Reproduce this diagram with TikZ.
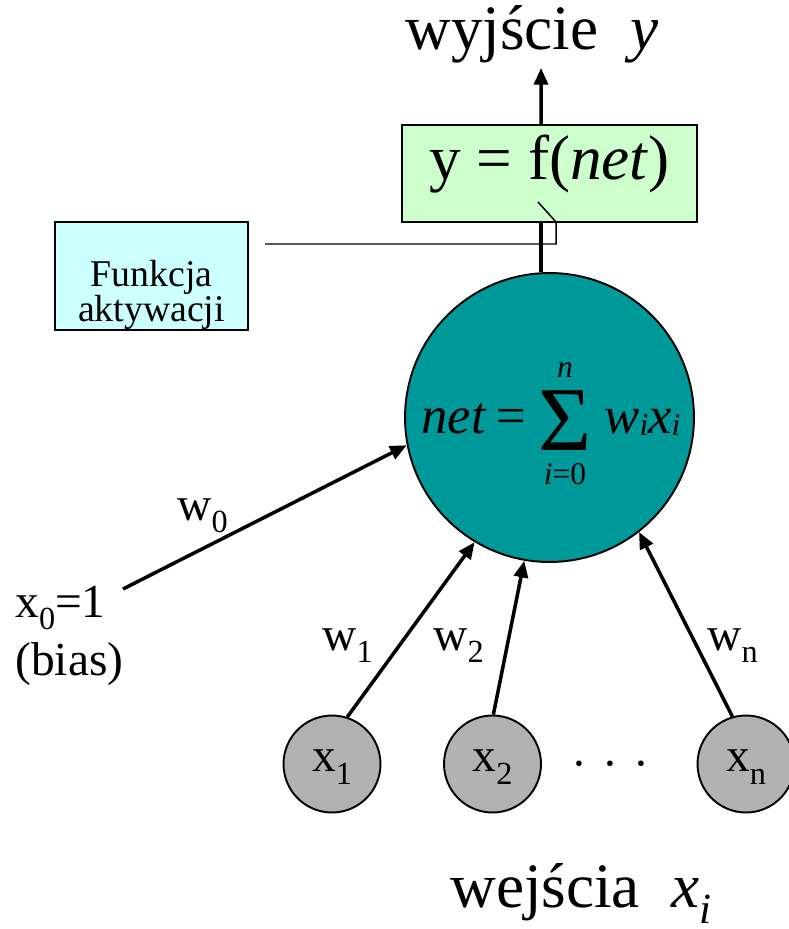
\documentclass[tikz,border=0pt]{standalone}
\usepackage{fontspec}
\setmainfont{Liberation Serif}
\usepackage{graphicx}
\usetikzlibrary{arrows.meta}

\definecolor{outgreen}{HTML}{CCFFCC}
\definecolor{actcyan}{HTML}{CCFFFF}
\definecolor{neuroncol}{HTML}{009999}
\definecolor{inputgray}{HTML}{B2B2B2}

% lowered subscript
\newcommand{\lo}[1]{\raisebox{-0.26em}{\scalebox{0.68}{#1}}}

\tikzset{
    big/.style={inner sep=0pt, font=\fontsize{36}{40}\selectfont},
    lbl/.style={inner sep=0pt, font=\fontsize{27}{32}\selectfont},
    formula/.style={inner sep=0pt, font=\fontsize{30}{34}\selectfont},
    outbox/.style={draw, line width=0.8pt, fill=outgreen, inner sep=0pt,
        minimum width=5.9cm, minimum height=1.94cm,
        text height=0.89em, text depth=0.21em, font=\fontsize{36}{40}\selectfont},
    actbox/.style={draw, line width=0.8pt, fill=actcyan, inner sep=0pt, align=center,
        minimum width=3.86cm, minimum height=2.16cm, font=\fontsize{21.5}{20}\selectfont},
    neuron/.style={circle, draw, line width=1.1pt, fill=neuroncol, inner sep=0pt,
        minimum size=5.78cm},
    inp/.style={circle, draw, line width=1.1pt, fill=inputgray, inner sep=0pt,
        minimum size=1.94cm, text height=0.9em, text depth=0pt,
        font=\fontsize{27}{32}\selectfont},
    wire/.style={line width=2pt},
    arr/.style={line width=2pt, -{Triangle[length=9.5pt,width=8pt]}},
    callout/.style={line width=0.85pt}
}

\begin{document}
\begin{tikzpicture}[x=0.02cm, y=-0.02cm]
    \useasboundingbox (0,0) rectangle (788,929);

    % Output and activation boxes
    \node[outbox] (out) at (549.5,173.5) {y = f(\textit{net})\hspace{0.3cm}};
    \node[actbox] (act) at (151.5,276) {Funkcja\rule{0pt}{1.7em}\\aktywacji};
    \node[big, anchor=base west] (title) at (405,50) {wyjście~~\textit{y}};
    \coordinate (ytop) at (541,68);

    % The neuron
    \node[neuron] (neuron) at (549.5,417.5) {};
    \node[formula, anchor=base west] (net) at (421,433) {\textit{net}};
    \node[formula, anchor=base west] (eq) at (496,433) {=};
    \node[inner sep=0pt, font=\fontsize{52}{52}\selectfont] (sum) at (565,421) {Σ};
    \node[inner sep=0pt, font=\fontsize{18}{18}\selectfont, anchor=base] (top) at (565,377) {\textit{n}};
    \node[inner sep=0pt, font=\fontsize{18}{18}\selectfont, anchor=base] (bot) at (565,484) {\textit{i}=0};
    \node[formula, anchor=base west] (wx) at (604,433)
        {\textit{w\raisebox{-0.05em}{\scalebox{0.6}{i}}x\raisebox{-0.05em}{\scalebox{0.6}{i}}}};

    % Inputs
    \node[inp] (x1) at (332,764) {x\lo{1}};
    \node[inp] (x2) at (492.5,764) {x\lo{2}};
    \node[inp] (xn) at (746,764) {x\lo{n}};
    \node[lbl] (dots) at (610,770) {·\hspace{0.32em}·\hspace{0.32em}·};
    \node[big, anchor=base west] (inputs) at (450,907) {wejścia~~\textit{x\lo{i}}};

    % Bias
    \coordinate (b0) at (123,589);
    \node[lbl, anchor=base west] (x0) at (15,617) {x\lo{0}=1};
    \node[lbl, anchor=base west] (biastxt) at (15,675) {(bias)};

    % Connectors
    \draw[wire] ([xshift=-0.17cm]neuron.north) -- ([xshift=-0.17cm]out.south);
    \draw[arr] ([xshift=-0.17cm]out.north) -- (ytop);
    \draw[arr] (b0) -- (neuron.191.6);
    \draw[arr] (x1.72) -- (neuron.239);
    \draw[arr] (x2.89) -- (neuron.260);
    \draw[arr] (xn.106) -- (neuron.308);

    % Callout to f(net)
    \coordinate (tip) at (538,202);
    \coordinate (lend) at (265,244);
    \draw[callout] (tip) -- (556,222) -- (556,244) -- (lend);

    % Weights
    \node[lbl, anchor=base west] (w0) at (177,520) {w\lo{0}};
    \node[lbl, anchor=base west] (w1) at (322,650) {w\lo{1}};
    \node[lbl, anchor=base west] (w2) at (433,650) {w\lo{2}};
    \node[lbl, anchor=base west] (wn) at (707,650) {w\lo{n}};
\end{tikzpicture}
\end{document}
